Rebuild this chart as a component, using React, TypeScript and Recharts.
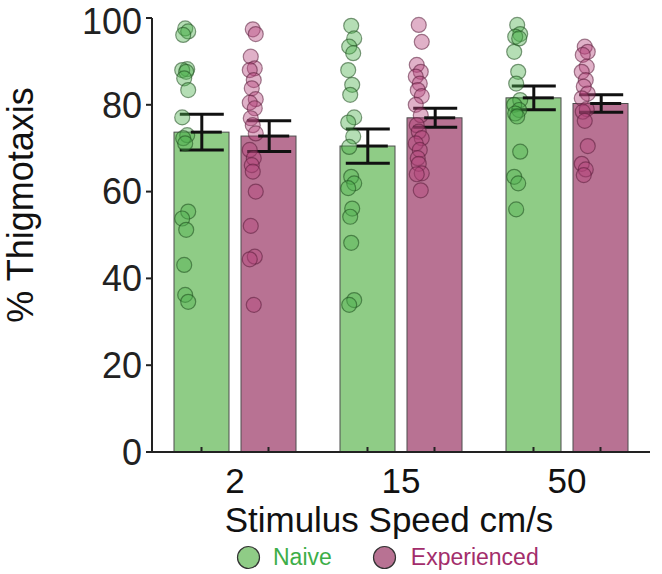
import React from "react";
import {
  ComposedChart,
  Bar,
  Scatter,
  ErrorBar,
  XAxis,
  YAxis,
  Legend,
} from "recharts";

const speeds = ["2", "15", "50"];
const naiveMean = [73.7, 70.5, 81.6];
const naiveSem = [4.1, 3.95, 2.75];
const expMean = [72.8, 77.0, 80.3];
const expSem = [3.55, 2.2, 2.0];

// individual animals, per speed
const naiveDots = [
  [97.6, 96.9, 96.1, 88.2, 88.0, 87.6, 86.1, 83.4, 77.1, 73.0, 72.3, 71.1, 55.4, 53.8, 51.2, 43.1, 36.2, 34.6],
  [98.2, 95.3, 93.4, 91.9, 88.0, 84.6, 82.3, 77.1, 75.9, 72.7, 70.3, 63.4, 61.9, 60.8, 56.1, 54.2, 48.2, 35.0, 33.9],
  [98.4, 96.3, 95.7, 95.3, 92.2, 87.6, 84.9, 81.1, 80.0, 78.8, 78.0, 77.3, 69.2, 63.4, 61.9, 55.9],
];
const expDots = [
  [97.4, 96.3, 91.1, 88.4, 88.0, 85.7, 83.8, 81.3, 80.5, 79.2, 76.9, 75.3, 73.4, 69.6, 67.7, 66.1, 64.6, 60.0, 52.1, 45.0, 44.4, 33.9],
  [98.4, 94.5, 89.2, 87.6, 86.5, 84.9, 83.4, 82.0, 80.0, 77.6, 75.3, 73.8, 72.3, 71.1, 69.6, 67.7, 66.4, 64.2, 64.0, 60.3],
  [93.4, 92.2, 91.5, 88.8, 87.6, 85.7, 84.2, 82.6, 81.5, 79.0, 78.4, 76.3, 70.5, 66.4, 65.1, 63.8],
];
const yTicks = [0, 20, 40, 60, 80, 100];

const FONT = "'Liberation Sans', Arial, sans-serif";
const GREEN = "#8fcc86";
const PINK = "#b87293";

// small horizontal spread so dots don't sit on one line (band units)
const jitter = [0, 3, -2, 2, -3, 1, -1, 3, -3, 2, -2, 0, 3, -3, 1, -1].map((p) => p / 166);

const barData = speeds.map((s, i) => ({ speed: s, naive: naiveMean[i], experienced: expMean[i] }));

const dotsFor = (groups: number[][], off: number) =>
  groups.flatMap((vals, g) => vals.map((v, k) => ({ x: g + off + jitter[k % jitter.length], y: v })));

const naivePts = dotsFor(naiveDots, 0.2);
const expPts = dotsFor(expDots, 0.607);

const errPts = [
  ...speeds.map((s, i) => ({ x: i + 0.3, y: naiveMean[i], err: naiveSem[i] })),
  ...speeds.map((s, i) => ({ x: i + 0.706, y: expMean[i], err: expSem[i] })),
];

const BarShape = (props: any) => {
  const { x, y, width, height, fill } = props;
  const cx = x + width / 2;
  return (
    <g>
      <rect x={x} y={y} width={width} height={height} fill={fill} stroke="#4d4d4d" strokeWidth={1} />
      <line x1={cx} x2={cx} y1={y + height} y2={y + height - 5} stroke="#222" strokeWidth={2} />
    </g>
  );
};

const Dot = (color: string, edge: string) => (props: any) => (
  <circle
    cx={props.cx}
    cy={props.cy}
    r={7.5}
    fill={color}
    fillOpacity={0.42}
    stroke={edge}
    strokeOpacity={0.55}
    strokeWidth={1.2}
  />
);

const MeanMark = (props: any) => (
  <line x1={props.cx - 11} x2={props.cx + 20} y1={props.cy} y2={props.cy} stroke="#111" strokeWidth={3} />
);

const LegendBox = () => (
  <div style={{ height: 40, width: 662, paddingTop: 6, boxSizing: "border-box", fontFamily: FONT }}>
    <div style={{ display: "flex", alignItems: "center", marginLeft: 236, height: 34 }}>
      <svg width={25} height={25}>
        <circle cx={12.5} cy={12.5} r={11} fill={GREEN} stroke="#333" strokeWidth={1.2} />
      </svg>
      <span style={{ fontSize: 23, color: "#3dae48", marginLeft: 12 }}>Naive</span>
      <svg width={25} height={25} style={{ marginLeft: 40 }}>
        <circle cx={12.5} cy={12.5} r={11} fill={PINK} stroke="#333" strokeWidth={1.2} />
      </svg>
      <span style={{ fontSize: 23, color: "#a32d6b", marginLeft: 14 }}>Experienced</span>
    </div>
  </div>
);

export default function App() {
  return (
    <div style={{ position: "absolute", left: 0, top: 0, background: "#fff" }}>
      <ComposedChart
        width={662}
        height={574}
        data={barData}
        margin={{ top: 18, right: 12, left: 0, bottom: 0 }}
        barSize={55}
        barGap={12}
      >
        <XAxis
          xAxisId="cat"
          dataKey="speed"
          tickLine={false}
          tickSize={0}
          tickMargin={16}
          height={82}
          axisLine={{ stroke: "#222", strokeWidth: 2 }}
          tick={{ fontSize: 35, fill: "#111", fontFamily: FONT }}
          label={{
            content: ({ viewBox }: any) => (
              <text
                x={viewBox.x + viewBox.width / 2 - 12}
                y={532}
                textAnchor="middle"
                fontSize={35}
                fill="#111"
                fontFamily={FONT}
              >
                Stimulus Speed cm/s
              </text>
            ),
          }}
        />
        <XAxis xAxisId="num" dataKey="x" type="number" domain={[0, 3]} hide allowDataOverflow />
        <YAxis
          domain={[0, 100]}
          ticks={yTicks}
          width={152}
          tickSize={6}
          tickMargin={4}
          axisLine={{ stroke: "#222", strokeWidth: 2 }}
          tickLine={{ stroke: "#222", strokeWidth: 2 }}
          tick={{ fontSize: 36, fill: "#222", fontFamily: FONT }}
          label={{
            content: () => (
              <text
                x={33}
                y={205}
                transform="rotate(-90, 33, 205)"
                textAnchor="middle"
                fontSize={36}
                fill="#111"
                fontFamily={FONT}
              >
                % Thigmotaxis
              </text>
            ),
          }}
        />
        <Legend verticalAlign="bottom" content={() => <LegendBox />} wrapperStyle={{ left: 0, width: 662 }} />
        <Bar xAxisId="cat" dataKey="naive" fill={GREEN} shape={BarShape} isAnimationActive={false} />
        <Bar xAxisId="cat" dataKey="experienced" fill={PINK} shape={BarShape} isAnimationActive={false} />
        <Scatter
          xAxisId="num"
          data={naivePts}
          dataKey="y"
          shape={Dot("#4fb04f", "#1d4a1d")}
          isAnimationActive={false}
        />
        <Scatter
          xAxisId="num"
          data={expPts}
          dataKey="y"
          shape={Dot("#b5457c", "#5a1e3b")}
          isAnimationActive={false}
        />
        <Scatter xAxisId="num" data={errPts} dataKey="y" shape={MeanMark} isAnimationActive={false}>
          <ErrorBar dataKey="err" direction="y" width={22} stroke="#111" strokeWidth={3} />
        </Scatter>
      </ComposedChart>
    </div>
  );
}
